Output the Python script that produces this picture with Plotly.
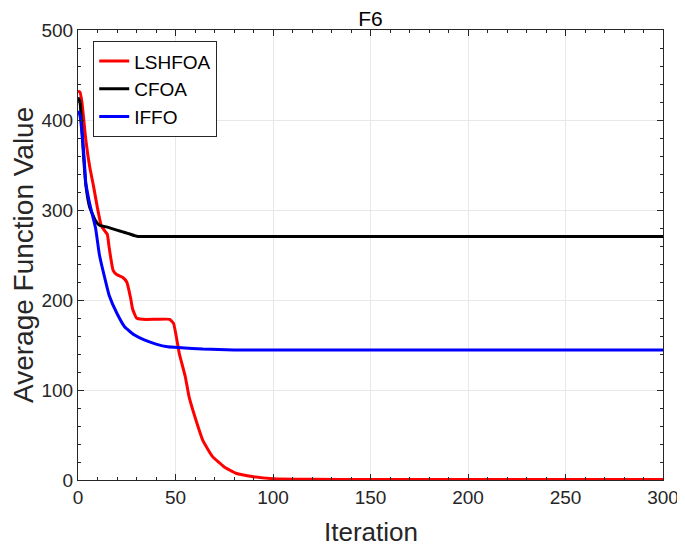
import plotly.graph_objects as go

# LSHFOA
red_x = [0, 1, 2, 4, 6, 8, 10, 12, 15, 16, 18, 20, 23, 25, 27, 28, 30, 33, 40, 47, 49, 51, 52, 55, 57, 61, 64, 69, 75, 81, 90, 100, 120, 150, 200, 250, 300]
red_y = [432, 431, 420, 378, 348, 326, 302, 282, 273, 258, 233, 228, 225, 220, 202, 190, 180, 178.5, 178.5, 178.5, 174, 152, 140, 115, 92, 63, 44, 26, 14.5, 7.5, 3.7, 1.5, 0.8, 0.5, 0.5, 0.5, 0.5]
# CFOA
blk_x = [0, 1, 2, 3, 4, 6, 9, 11, 15, 21, 24, 27, 29, 31, 40, 100, 200, 300]
blk_y = [425, 420, 390, 355, 328, 303, 288, 283, 281, 277, 275, 273, 271.5, 270.5, 270.5, 270.5, 270.5, 270.5]
# IFFO
blu_x = [0, 1, 3, 4, 6, 9, 11, 14, 16, 20, 24, 29, 34, 40, 46, 53, 64, 80, 100, 150, 200, 300]
blu_y = [410, 405, 362, 330, 307, 280, 250, 222, 205, 185, 170, 161, 155.6, 151, 148, 147, 145.5, 144.5, 144.5, 144.5, 144.5, 144.5]

series = [("LSHFOA", red_x, red_y, "#ff0000"),
          ("CFOA", blk_x, blk_y, "#000000"),
          ("IFFO", blu_x, blu_y, "#0000ff")]

x_ticks = [0, 50, 100, 150, 200, 250, 300]
y_ticks = [0, 100, 200, 300, 400, 500]

FONT = "Liberation Sans, Arial"

fig = go.Figure()
for name, xs, ys, c in series:
    fig.add_trace(go.Scatter(x=xs, y=ys, mode="lines", name=name,
                             line=dict(color=c, width=3, shape="spline", smoothing=0.4)))

axis_common = dict(
    showline=True, linecolor="#262626", linewidth=1, mirror="allticks",
    ticks="inside", ticklen=6, tickcolor="#262626",
    showgrid=True, gridcolor="#e8e8e8", gridwidth=1, zeroline=False,
    tickfont=dict(family=FONT, size=19, color="#262626"),
    automargin=False,
)

fig.update_xaxes(range=[0, 300], tickvals=x_ticks, **axis_common,
                 minor=dict(dtick=10, ticks="inside", ticklen=3, tickcolor="#262626", showgrid=False))
fig.update_yaxes(range=[0, 500], tickvals=y_ticks, **axis_common,
                 minor=dict(dtick=20, ticks="inside", ticklen=3, tickcolor="#262626", showgrid=False))

# axis titles as annotations for exact placement
fig.add_annotation(text="Iteration", xref="paper", yref="paper", x=0.5, y=0,
                   xanchor="center", yanchor="middle", yshift=-52, showarrow=False,
                   font=dict(family=FONT, size=26, color="#262626"))
fig.add_annotation(text="Average Function Value", xref="paper", yref="paper", x=0, y=0.5,
                   xanchor="center", yanchor="middle", xshift=-55, textangle=-90, showarrow=False,
                   font=dict(family=FONT, size=28, color="#262626"))

fig.update_layout(
    width=677, height=539,
    margin=dict(l=70, r=22, t=22, b=67),
    plot_bgcolor="white", paper_bgcolor="white",
    title=dict(text="F6", xref="paper", x=0.5, xanchor="center", yref="container", y=0.993, yanchor="top",
               pad=dict(t=0, b=0), font=dict(family=FONT, size=21, color="#000000"), automargin=False),
    legend=dict(x=0.026, y=0.975, xanchor="left", yanchor="top",
                bgcolor="white", bordercolor="#262626", borderwidth=1,
                font=dict(family=FONT, size=19, color="#000000"),
                tracegroupgap=0),
    showlegend=True,
)

fig.write_html("out.html")
